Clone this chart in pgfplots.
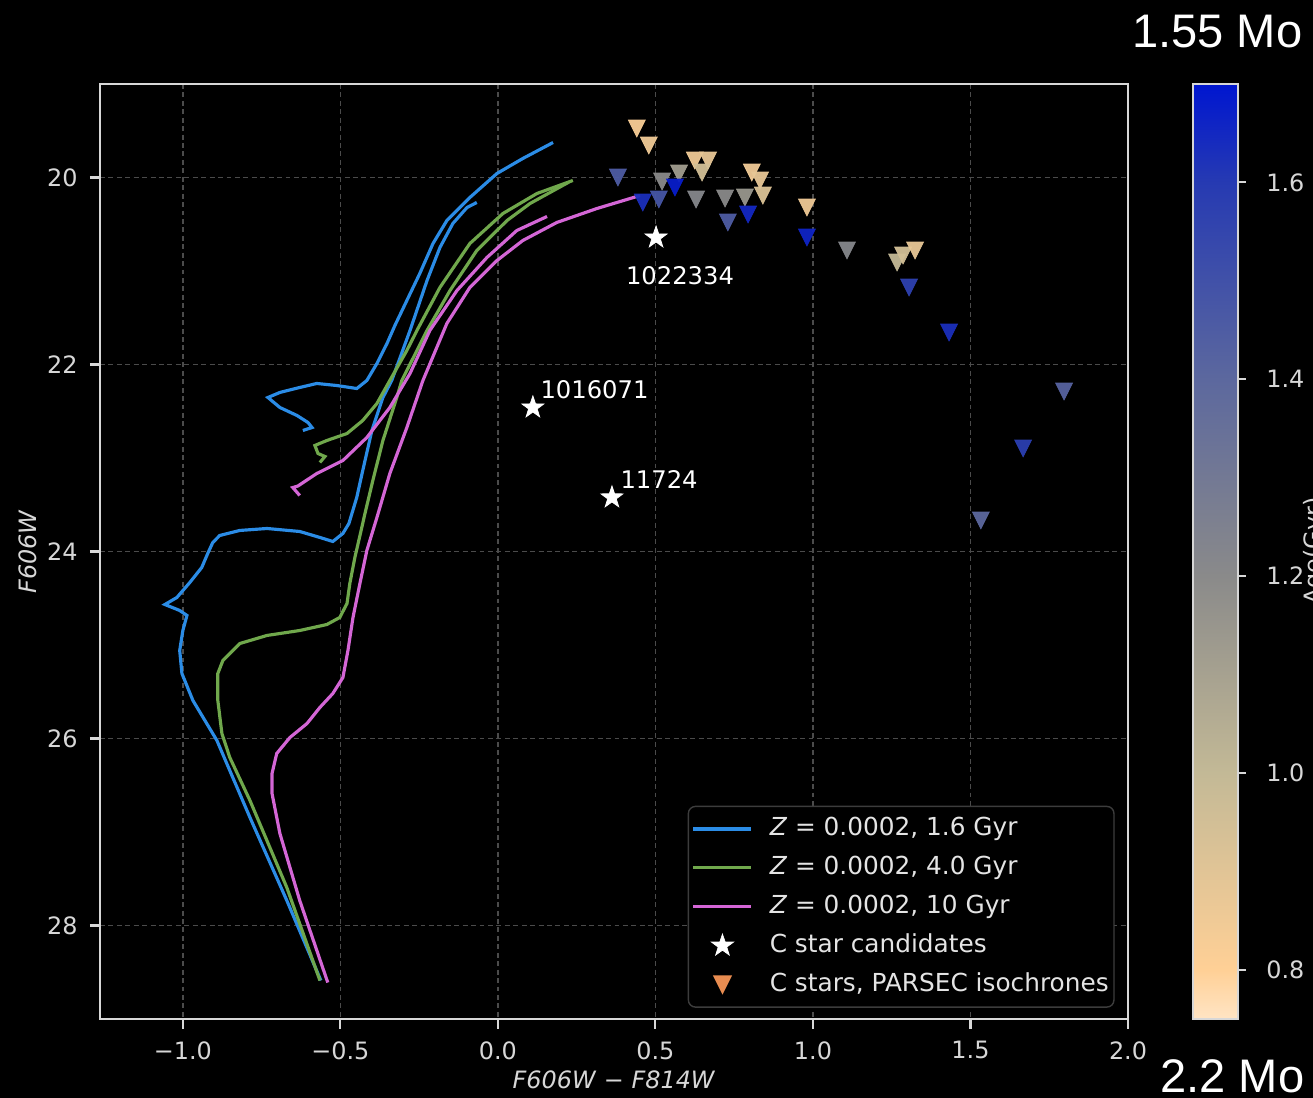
\documentclass[border=0pt]{standalone}
\usepackage{pgfplots}
\usepackage{pgfplotstable}
\pgfplotsset{compat=1.18}
\usepackage{fontspec}
\setmainfont{DejaVu Sans}
\newfontfamily\arialfont{Liberation Sans}

\definecolor{isoblue}{RGB}{43,140,230}
\definecolor{isogreen}{RGB}{112,168,76}
\definecolor{isopink}{RGB}{212,102,214}
\definecolor{fg}{RGB}{215,215,215}
\definecolor{gridc}{RGB}{75,75,75}
\definecolor{legorange}{RGB}{232,140,80}

\pgfdeclareplotmark{tridown}{%
  \pgfpathmoveto{\pgfpoint{0pt}{-\pgfplotmarksize}}%
  \pgfpathlineto{\pgfpoint{-\pgfplotmarksize}{\pgfplotmarksize}}%
  \pgfpathlineto{\pgfpoint{\pgfplotmarksize}{\pgfplotmarksize}}%
  \pgfpathclose
  \pgfusepathqfillstroke}
\pgfdeclareplotmark{fstar}{%
  \pgfpathmoveto{\pgfpointpolar{90}{\pgfplotmarksize}}%
  \pgfpathlineto{\pgfpointpolar{126}{0.39\pgfplotmarksize}}%
  \pgfpathlineto{\pgfpointpolar{162}{\pgfplotmarksize}}%
  \pgfpathlineto{\pgfpointpolar{198}{0.39\pgfplotmarksize}}%
  \pgfpathlineto{\pgfpointpolar{234}{\pgfplotmarksize}}%
  \pgfpathlineto{\pgfpointpolar{270}{0.39\pgfplotmarksize}}%
  \pgfpathlineto{\pgfpointpolar{306}{\pgfplotmarksize}}%
  \pgfpathlineto{\pgfpointpolar{342}{0.39\pgfplotmarksize}}%
  \pgfpathlineto{\pgfpointpolar{18}{\pgfplotmarksize}}%
  \pgfpathlineto{\pgfpointpolar{54}{0.39\pgfplotmarksize}}%
  \pgfpathclose
  \pgfusepathqfillstroke}

\pgfplotstableread{
x y
-0.562 28.588
-0.670 27.733
-0.787 26.845
-0.892 26.021
-0.968 25.594
-1.003 25.305
-1.010 25.059
-1.000 24.845
-0.987 24.684
-1.010 24.631
-1.057 24.567
-1.019 24.492
-0.978 24.332
-0.940 24.171
-0.921 24.021
-0.905 23.904
-0.883 23.829
-0.819 23.775
-0.733 23.754
-0.629 23.786
-0.565 23.850
-0.524 23.893
-0.492 23.807
-0.473 23.701
-0.448 23.422
-0.429 23.134
-0.400 22.706
-0.365 22.353
-0.337 22.171
-0.279 21.636
-0.225 21.102
-0.184 20.749
-0.143 20.492
-0.098 20.321
-0.067 20.267
}\blueA
\pgfplotstableread{
x y
-0.619 22.706
-0.590 22.674
-0.603 22.620
-0.638 22.545
-0.692 22.460
-0.730 22.353
-0.692 22.299
-0.629 22.246
-0.575 22.203
-0.511 22.225
-0.448 22.257
-0.416 22.171
-0.384 21.989
-0.352 21.775
-0.327 21.583
-0.248 21.027
-0.206 20.706
-0.162 20.460
-0.089 20.214
-0.003 19.957
0.079 19.797
0.175 19.626
}\blueB
\pgfplotstableread{
x y
-0.565 28.588
-0.670 27.594
-0.787 26.663
-0.851 26.203
-0.876 25.947
-0.889 25.594
-0.889 25.305
-0.873 25.166
-0.819 24.984
-0.733 24.898
-0.629 24.845
-0.543 24.781
-0.502 24.706
-0.479 24.556
-0.470 24.342
-0.454 24.064
-0.432 23.743
-0.422 23.594
-0.397 23.241
-0.365 22.813
-0.321 22.353
-0.305 22.171
-0.225 21.636
-0.152 21.209
-0.067 20.781
0.029 20.460
0.102 20.278
0.225 20.050
}\greenA
\pgfplotstableread{
x y
-0.565 23.048
-0.549 22.984
-0.571 22.952
-0.581 22.866
-0.543 22.813
-0.479 22.738
-0.429 22.599
-0.384 22.417
-0.343 22.171
-0.289 21.850
-0.257 21.636
-0.184 21.176
-0.089 20.706
0.016 20.385
0.124 20.171
0.238 20.032
}\greenB
\pgfplotstableread{
x y
-0.540 28.610
-0.629 27.733
-0.692 27.016
-0.717 26.588
-0.717 26.374
-0.702 26.160
-0.660 25.989
-0.606 25.840
-0.565 25.668
-0.524 25.519
-0.492 25.348
-0.476 25.059
-0.460 24.706
-0.438 24.342
-0.416 23.989
-0.384 23.636
-0.343 23.166
-0.289 22.674
-0.238 22.171
-0.162 21.561
-0.089 21.176
-0.003 20.888
0.079 20.674
0.187 20.481
0.314 20.332
0.451 20.193
}\pinkA
\pgfplotstableread{
x y
-0.629 23.401
-0.651 23.316
-0.635 23.300
-0.575 23.166
-0.492 23.027
-0.416 22.781
-0.343 22.460
-0.279 22.096
-0.216 21.636
-0.130 21.209
-0.035 20.856
0.060 20.567
0.156 20.417
}\pinkB
\pgfplotstableread{
x y age
0.441 19.476 0.82
0.479 19.658 0.85
0.381 20.000 1.45
0.521 20.043 1.20
0.575 19.957 1.12
0.562 20.107 1.68
0.460 20.267 1.63
0.511 20.235 1.48
0.625 19.818 0.85
0.667 19.818 0.88
0.648 19.947 0.95
0.629 20.235 1.22
0.721 20.225 1.20
0.784 20.214 1.15
0.806 19.947 0.85
0.832 20.032 0.88
0.841 20.193 0.92
0.730 20.481 1.45
0.794 20.396 1.65
0.981 20.321 0.85
0.981 20.642 1.66
1.108 20.781 1.22
1.267 20.909 1.00
1.286 20.834 0.95
1.324 20.781 0.88
1.305 21.176 1.57
1.432 21.658 1.63
1.797 22.289 1.42
1.667 22.898 1.58
1.533 23.668 1.40
}\cstars
\pgfplotstableread{
x y
0.502 20.642
0.111 22.460
0.362 23.422
}\cand

\pgfplotsset{
  every axis/.append style={
    tick label style={font=\fontsize{6.8}{8}\selectfont, text=fg},
    axis line style={draw=fg, line width=0.6pt},
    tick style={draw=fg, line width=0.6pt},
    major tick length=0.1cm,
    tick align=outside,
    /pgf/number format/assume math mode=true,
  },
  legend image code/.code={\draw[mark repeat=2,mark phase=2,#1] plot coordinates {(0cm,0cm) (0.29cm,0cm) (0.58cm,0cm)};},
}

\begin{document}
\begin{tikzpicture}
\useasboundingbox (0,0) rectangle (13.13,10.98);
\clip (0,0) rectangle (13.13,10.98);
\fill[black] (0,0) rectangle (13.13,10.98);
\begin{axis}[
  at={(1.00cm,0.79cm)}, anchor=south west,
  scale only axis, width=10.28cm, height=9.35cm,
  xmin=-1.263, xmax=2.0, ymin=19, ymax=29, y dir=reverse,
  xtick={-1,-0.5,0,0.5,1,1.5,2},
  xticklabels={−1.0,−0.5,0.0,0.5,1.0,1.5,2.0},
  ytick={20,22,24,26,28},
  xtick pos=bottom, ytick pos=left,
  grid=major,
  major grid style={gridc, dash pattern=on 1.4pt off 1pt, line width=0.4pt},
  xlabel={\textit{F606W} − \textit{F814W}},
  ylabel={\textit{F606W}},
  xlabel style={font=\fontsize{6.8}{8}\selectfont, text=fg, at={(axis description cs:0.5,-0.065)}, anchor=center},
  ylabel style={font=\fontsize{6.8}{8}\selectfont, text=fg, at={(axis description cs:-0.070,0.5)}, anchor=center},
  colormap={agemap}{rgb255(0cm)=(255,228,196); rgb255(0.5cm)=(255,208,150); rgb255(2.5cm)=(195,185,150); rgb255(4.5cm)=(138,138,138); rgb255(6.5cm)=(92,104,158); rgb255(8.5cm)=(38,58,178); rgb255(9.5cm)=(0,22,208)},
  point meta min=0.75, point meta max=1.70,
  colorbar,
  colorbar style={
    at={(parent axis.north east)}, anchor=north west, xshift=0.35cm,
    scale only axis, width=0.45cm, height=9.35cm,
    ytick={0.8,1.0,1.2,1.4,1.6},
    yticklabels={0.8,1.0,1.2,1.4,1.6},
    ytick pos=right, yticklabel pos=right,
    major tick length=0.08cm,
    ytick style={draw=none},
    yticklabel style={xshift=0.08cm},
    after end axis/.code={
      \draw[fg, line width=0.6pt] (rel axis cs:0,0) rectangle (rel axis cs:1,1);
      \foreach \r in {0.05263,0.26316,0.47368,0.68421,0.89474}{
        \draw[fg, line width=0.6pt] (rel axis cs:1,\r) -- ++(0.08cm,0);}
    },
  },
  legend style={at={(0.987,0.012)}, anchor=south east, fill=black, draw={rgb,255:red,60;green,60;blue,60},
    rounded corners=2pt, text={rgb,255:red,228;green,228;blue,228}, font=\fontsize{7.05}{8}\selectfont,
    row sep=0.115cm, column sep=0.15cm, inner xsep=1pt, inner ysep=2.5pt,
    nodes={inner sep=0.5pt, text height=5.3pt, text depth=1.5pt}},
  legend cell align=left,
]
\addplot[isoblue, line width=0.9pt] table {\blueA};
\addlegendentry{\textit{Z} = 0.0002, 1.6 Gyr}
\addplot[isoblue, line width=0.9pt, forget plot] table {\blueB};
\addplot[isogreen, line width=0.9pt] table {\greenA};
\addlegendentry{\textit{Z} = 0.0002, 4.0 Gyr}
\addplot[isogreen, line width=0.9pt, forget plot] table {\greenB};
\addplot[isopink, line width=0.9pt] table {\pinkA};
\addlegendentry{\textit{Z} = 0.0002, 10 Gyr}
\addplot[isopink, line width=0.9pt, forget plot] table {\pinkB};
\addplot[only marks, mark=fstar, mark size=3.3pt, mark options={fill=white, draw=white, line width=0.2pt}] table {\cand};
\addlegendentry{C star candidates}
\addplot[scatter, only marks, mark=tridown, mark size=2.4pt, point meta=explicit,
  scatter/use mapped color={draw=mapped color, fill=mapped color},
  mark options={line width=0.2pt, fill opacity=0.95, draw opacity=0.95}, forget plot]
  table[x=x, y=y, meta=age] {\cstars};
\addlegendimage{only marks, mark=tridown, mark size=2.4pt, mark options={fill=legorange, draw=legorange}}
\addlegendentry{C stars, PARSEC isochrones}
\node[anchor=base, text=white, font=\fontsize{6.9}{8}\selectfont] at (axis cs:0.578,21.144) {1022334};
\node[anchor=base west, text=white, font=\fontsize{6.9}{8}\selectfont, inner sep=0pt] at (axis cs:0.133,22.364) {1016071};
\node[anchor=base west, text=white, font=\fontsize{6.9}{8}\selectfont, inner sep=0pt] at (axis cs:0.387,23.326) {11724};
\end{axis}
\node[anchor=base east, inner sep=0pt, text=white, font=\arialfont\fontsize{13.4}{15}\selectfont] at (13.03,10.50) {1.55 Mo};
\node[anchor=base east, inner sep=0pt, text=white, font=\arialfont\fontsize{13.4}{15}\selectfont] at (13.05,0.05) {2.2 Mo};
\node[rotate=90, anchor=north, inner sep=0pt, text=fg, font=\fontsize{6.8}{8}\selectfont] at (13.03,5.47) {Age(Gyr)};
\end{tikzpicture}
\end{document}
